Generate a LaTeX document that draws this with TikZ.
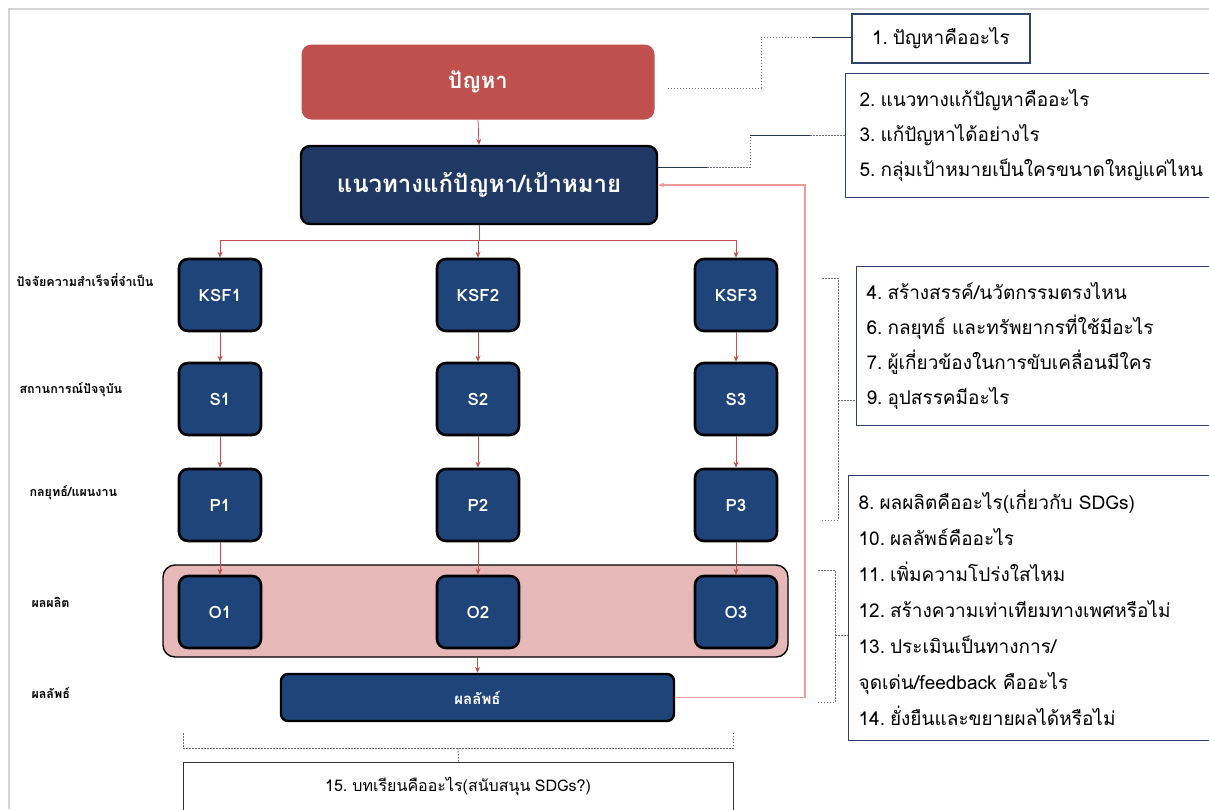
\documentclass[tikz,border=0pt]{standalone}
\usepackage{fontspec}
\setmainfont[Script=Thai, WordSpace=0.8]{Loma}
\usetikzlibrary{arrows.meta,calc}
\definecolor{probred}{HTML}{C0504D}
\definecolor{solnavy}{HTML}{1F3864}
\definecolor{ksfblue}{HTML}{1F4479}
\definecolor{arrowred}{HTML}{C0504D}
\definecolor{fbred}{HTML}{F29A9A}
\definecolor{panelpink}{HTML}{E6B9B8}
\definecolor{qframe}{HTML}{2F4470}
\definecolor{frameg}{HTML}{D4D4D4}
\definecolor{dotg}{HTML}{6F6F6F}
\newcommand\qnum[1]{#1.\kern5pt}
\begin{document}
\begin{tikzpicture}[x=1pt,y=-1pt,
  kbox/.style={draw=black, line width=2.6pt, fill=ksfblue, rounded corners=9pt, minimum width=82pt, minimum height=72pt, text=white, font=\bfseries\fontsize{17}{20}\selectfont},
  redarrow/.style={draw=arrowred, line width=0.8pt, -{Stealth[length=6pt,width=5pt]}},
  redline/.style={draw=arrowred, line width=0.8pt},
  fbarrow/.style={draw=fbred, line width=1.3pt, -{Stealth[length=6pt,width=5pt]}},
  qbox/.style={draw=qframe, line width=1.3pt, align=left, anchor=north west, font=\fontsize{19}{35}\selectfont},
  dotline/.style={draw=dotg, line width=1pt, dash pattern=on 1.5pt off 1.5pt},
  solidline/.style={draw=qframe!80!black, line width=1pt},
  sidelabel/.style={anchor=west, font=\bfseries\fontsize{12.5}{15}\selectfont}
]
\useasboundingbox (0,0) rectangle (1209,809);
\clip (0,0) rectangle (1209,809);
\fill[white] (0,0) rectangle (1209,809);
% outer frame
\draw[frameg, line width=1.5pt] (9,809) -- (9,9) -- (1209,9);

% main boxes
\node[fill=probred, rounded corners=10pt, minimum width=353pt, minimum height=75pt, text=white, font=\bfseries\fontsize{22}{26}\selectfont] (prob) at (478,82) {ปัญหา};
\node[draw=black, line width=2.4pt, fill=solnavy, rounded corners=9pt, minimum width=356pt, minimum height=78pt, text=white, font=\bfseries\fontsize{24}{28}\selectfont] (sol) at (479,185) {แนวทางแก้ปัญหา/เป้าหมาย};

% pink panel
\node[draw=black, line width=1.4pt, fill=panelpink, rounded corners=12pt, minimum width=625pt, minimum height=92pt] (panel) at (475.5,611) {};

% grid of boxes
\foreach \c/\x in {1/220,2/478,3/736} {
  \node[kbox] (K\c) at (\x,295) {KSF\c};
  \node[kbox] (S\c) at (\x,399) {S\c};
  \node[kbox] (P\c) at (\x,505) {P\c};
  \node[kbox] (O\c) at (\x,612) {O\c};
}
\node[draw=black, line width=2.4pt, fill=ksfblue, rounded corners=7pt, minimum width=393pt, minimum height=47pt, text=white, font=\bfseries\fontsize{15}{18}\selectfont] (out) at (477.5,697.5) {ผลลัพธ์};

% side labels
\node[sidelabel] (l1) at (13,280) {ปัจจัยความสำเร็จที่จำเป็น};
\node[sidelabel] (l2) at (16,390) {สถานการณ์ปัจจุบัน};
\node[sidelabel] (l3) at (26,493) {กลยุทธ์/แผนงาน};
\node[sidelabel] (l4) at (28,602) {ผลผลิต};
\node[sidelabel] (l5) at (28,693) {ผลลัพธ์};

% red arrows
\draw[redarrow] (prob.south) -- (sol.north);
\coordinate (split) at (479,240);
\draw[redline] (sol.south) -- (split);
\draw[redline] (K1.north |- split) -- (K3.north |- split);
\foreach \c in {1,2,3} {
  \draw[redarrow] (K\c.north |- split) -- (K\c.north);
  \draw[redarrow] (K\c.south) -- (S\c.north);
  \draw[redarrow] (S\c.south) -- (P\c.north);
  \draw[redarrow] (P\c.south) -- (O\c.north);
}
\draw[redarrow] (out.north |- panel.south) -- (out.north);
% feedback loop
\draw[fbarrow] (out.east) -- (805,697.5) |- (sol.east);

% question boxes
\node[draw=qframe, line width=1.3pt, minimum width=178pt, minimum height=49pt, font=\fontsize{19}{22}\selectfont] (q1) at (941,38.5) {\qnum{1}ปัญหาคืออะไร};
\node[qbox, inner xsep=14pt, text width=380pt, minimum height=124pt] (q2) at (845,73) {\qnum{2}แนวทางแก้ปัญหาคืออะไร\\\qnum{3}แก้ปัญหาได้อย่างไร\\\qnum{5}กลุ่มเป้าหมายเป็นใครขนาดใหญ่แค่ไหน};
\node[qbox, inner xsep=10pt, text width=380pt, minimum height=159pt] (q4) at (856,266) {\qnum{4}สร้างสรรค์/นวัตกรรมตรงไหน\\\qnum{6}กลยุทธ์ และทรัพยากรที่ใช้มีอะไร\\\qnum{7}ผู้เกี่ยวข้องในการขับเคลื่อนมีใคร\\\qnum{9}อุปสรรคมีอะไร};
\node[qbox, inner xsep=10pt, text width=380pt, minimum height=265pt, font=\fontsize{19}{36}\selectfont] (q8) at (848,475) {\qnum{8}ผลผลิตคืออะไร(เกี่ยวกับ SDGs)\\\qnum{10}ผลลัพธ์คืออะไร\\\qnum{11}เพิ่มความโปร่งใสไหม\\\qnum{12}สร้างความเท่าเทียมทางเพศหรือไม่\\\qnum{13}ประเมินเป็นทางการ/\\จุดเด่น/feedback คืออะไร\\\qnum{14}ยั่งยืนและขยายผลได้หรือไม่};
\node[draw=black!80, line width=1.2pt, anchor=north west, minimum width=550pt, minimum height=70pt] (q15) at (183,762) {};
\node[font=\fontsize{16}{20}\selectfont] (q15t) at (458,786) {\qnum{15}บทเรียนคืออะไร(สนับสนุน SDGs?)};

% connector to q1
\coordinate (c1b) at (761,88);
\coordinate (c1c) at (761,37);
\coordinate (c1d) at (812,37);
\draw[dotline] ([xshift=13pt,yshift=-6pt]prob.east) -- (c1b) -- (c1c) -- (c1d);
\draw[solidline] (c1d) -- (q1.west |- c1d);
% connector to q2
\coordinate (c2a) at (707,167);
\coordinate (c2b) at (750,167);
\coordinate (c2c) at (750,135);
\coordinate (c2d) at (810,135);
\draw[solidline] ([yshift=18pt]sol.east) -- (c2a);
\draw[dotline] (c2a) -- (c2b) -- (c2c);
\draw[solidline] (c2c) -- (c2d);
\draw[dotline] (c2d) -- (q2.west |- c2d);
% bracket to q4
\coordinate (b1t) at (822,278);
\coordinate (b1b) at (822,520);
\draw[dotline] (b1t) -- (838,278) -- (838,520) -- (b1b);
\draw[dotline] (838,400) -- (q4.west |- 0,400);
% bracket to q8
\coordinate (b2t) at (818,570);
\coordinate (b2b) at (818,702);
\draw[dotline] (b2t) -- (835,570) -- (835,702) -- (b2b);
\draw[dotline] (835,635) -- (q8.west |- 0,635);
% bracket to q15
\coordinate (b3l) at (183,733);
\coordinate (b3r) at (733,733);
\draw[dotline] (b3l) -- (183,748) -- (733,748) -- (b3r);
\draw[dotline] (458,748) -- (q15.north);
\end{tikzpicture}
\end{document}
